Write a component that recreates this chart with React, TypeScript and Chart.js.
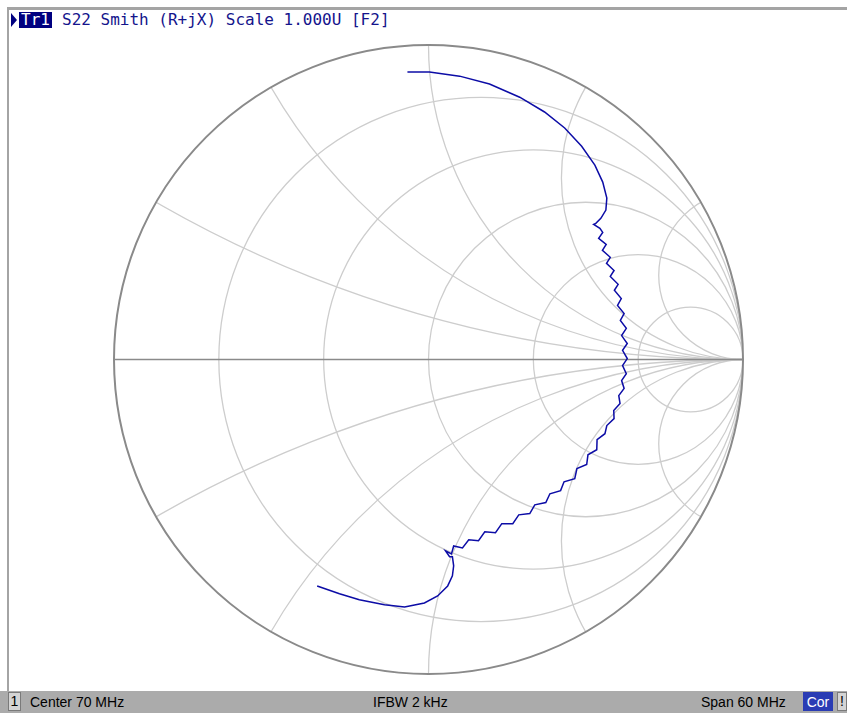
import { useEffect, useRef } from "react";
import { Chart, registerables } from "chart.js";
Chart.register(...registerables);

// Smith chart grid values (normalized)
const resistanceCircles = [0.2, 0.5, 1, 2, 5];
const reactanceArcs = [0.268, 0.577, 1, 1.732, 3.732];

// Trace: reflection coefficient, real and imaginary parts
const traceRe = [
  -0.067, 0.003, 0.099, 0.194, 0.29, 0.369, 0.433, 0.487, 0.529, 0.554, 0.567, 0.564, 0.548, 0.532,
  0.525, 0.545, 0.554, 0.541, 0.565, 0.553, 0.578, 0.566, 0.59, 0.578, 0.603, 0.591, 0.613, 0.601,
  0.622, 0.61, 0.629, 0.614, 0.632, 0.617, 0.632, 0.617, 0.629, 0.614, 0.622, 0.605, 0.609, 0.589,
  0.59, 0.567, 0.561, 0.536, 0.535, 0.507, 0.503, 0.472, 0.465, 0.431, 0.42, 0.386, 0.373, 0.338,
  0.322, 0.287, 0.268, 0.233, 0.213, 0.179, 0.159, 0.128, 0.108, 0.08, 0.073, 0.054, 0.067,
  0.076, 0.08, 0.076, 0.061, 0.029, -0.013, -0.076, -0.14, -0.22, -0.283, -0.354,
];
const traceIm = [
  0.914, 0.914, 0.901, 0.876, 0.834, 0.787, 0.736, 0.678, 0.618, 0.564, 0.513, 0.475, 0.449, 0.433,
  0.43, 0.417, 0.404, 0.385, 0.366, 0.347, 0.325, 0.306, 0.283, 0.264, 0.239, 0.22, 0.194, 0.172,
  0.146, 0.124, 0.099, 0.076, 0.051, 0.029, 0.003, -0.019, -0.045, -0.067, -0.092, -0.115, -0.14, -0.162,
  -0.188, -0.21, -0.236, -0.255, -0.287, -0.303, -0.334, -0.347, -0.379, -0.389, -0.417, -0.427, -0.455, -0.462,
  -0.49, -0.494, -0.522, -0.522, -0.551, -0.548, -0.576, -0.573, -0.599, -0.593, -0.618, -0.608, -0.627,
  -0.627, -0.656, -0.688, -0.72, -0.752, -0.774, -0.787, -0.78, -0.764, -0.745, -0.72,
];

const traceLabel = "Tr1";
const headerTitle = "S22 Smith (R+jX) Scale 1.000U [F2]";
const footerChannel = "1";
const footerCenter = "Center 70 MHz";
const footerIfbw = "IFBW 2 kHz";
const footerSpan = "Span 60 MHz";
const footerCor = "Cor";

const smithGrid = {
  id: "smithGrid",
  beforeDatasetsDraw(chart: any) {
    const { ctx } = chart;
    const xs = chart.scales.x;
    const ys = chart.scales.y;
    const px = (v: number) => xs.getPixelForValue(v);
    const py = (v: number) => ys.getPixelForValue(v);
    const cx = px(0);
    const cy = py(0);
    const R = px(1) - cx;
    ctx.save();
    ctx.beginPath();
    ctx.arc(cx, cy, R, 0, Math.PI * 2);
    ctx.clip();
    ctx.strokeStyle = "#cdcdcd";
    ctx.lineWidth = 1.3;
    for (const r of resistanceCircles) {
      ctx.beginPath();
      ctx.arc(px(r / (1 + r)), cy, px(1 / (1 + r)) - cx, 0, Math.PI * 2);
      ctx.stroke();
    }
    for (const xv of reactanceArcs) {
      for (const s of [1, -1]) {
        ctx.beginPath();
        ctx.arc(px(1), py(s / xv), px(1 / xv) - cx, 0, Math.PI * 2);
        ctx.stroke();
      }
    }
    ctx.restore();
    ctx.save();
    ctx.strokeStyle = "#8a8a8a";
    ctx.lineWidth = 1.6;
    ctx.beginPath();
    ctx.moveTo(px(-1), cy);
    ctx.lineTo(px(1), cy);
    ctx.stroke();
    ctx.lineWidth = 2;
    ctx.beginPath();
    ctx.arc(cx, cy, R, 0, Math.PI * 2);
    ctx.stroke();
    ctx.restore();
  },
};

export default function App() {
  const ref = useRef<HTMLCanvasElement>(null);
  useEffect(() => {
    document.body.style.margin = "0";
    const chart = new Chart(ref.current!, {
      type: "scatter",
      data: {
        datasets: [
          {
            label: traceLabel,
            data: traceRe.map((re, i) => ({ x: re, y: traceIm[i] })),
            showLine: true,
            borderColor: "#0c0ca6",
            borderWidth: 1.5,
            pointRadius: 0,
            tension: 0,
          },
        ],
      },
      options: {
        animation: false,
        responsive: false,
        devicePixelRatio: 1,
        layout: { padding: { left: 114, right: 104, top: 45, bottom: 39 } },
        scales: {
          x: { type: "linear", min: -1, max: 1, display: false },
          y: { type: "linear", min: -1, max: 1, display: false },
        },
        plugins: { legend: { display: false }, tooltip: { enabled: false } },
      },
      plugins: [smithGrid],
    });
    return () => chart.destroy();
  }, []);

  const mono = "'DejaVu Sans Mono', monospace";
  const sans = "'Liberation Sans', Arial, sans-serif";
  return (
    <div style={{ position: "fixed", left: 0, top: 0, width: 847, height: 713, background: "#fff", overflow: "hidden" }}>
      <div style={{ position: "absolute", left: 7, top: 7, right: 0, height: 3, background: "#a4a4a4" }} />
      <div style={{ position: "absolute", left: 7, top: 7, width: 2, height: 686, background: "#a4a4a4" }} />
      <div
        style={{
          position: "absolute", left: 11, top: 13, width: 0, height: 0,
          borderTop: "7px solid transparent", borderBottom: "7px solid transparent", borderLeft: "6px solid #000080",
        }}
      />
      <div
        style={{
          position: "absolute", left: 19, top: 12, width: 33, height: 16, background: "#000080", color: "#fff",
          font: `16px ${mono}`, lineHeight: "16px", textAlign: "center",
        }}
      >
        {traceLabel}
      </div>
      <div style={{ position: "absolute", left: 62, top: 12, color: "#14148c", font: `16px ${mono}`, lineHeight: "16px", whiteSpace: "pre" }}>
        {headerTitle}
      </div>
      <canvas ref={ref} width={847} height={713} style={{ position: "absolute", left: 0, top: 0, width: 847, height: 713 }} />
      <div style={{ position: "absolute", left: 0, top: 691, width: 847, height: 22, background: "#ababab", font: `14px ${sans}`, lineHeight: "20px", color: "#000" }}>
        <div style={{ position: "absolute", left: 8, top: 1, width: 13, height: 19, background: "#d4d4d4", border: "1px solid #7a7a7a", boxSizing: "border-box", textAlign: "center", lineHeight: "17px" }}>
          {footerChannel}
        </div>
        <div style={{ position: "absolute", left: 30, top: 1 }}>{footerCenter}</div>
        <div style={{ position: "absolute", left: 373, top: 1 }}>{footerIfbw}</div>
        <div style={{ position: "absolute", left: 701, top: 1 }}>{footerSpan}</div>
        <div style={{ position: "absolute", left: 803, top: 1, width: 30, height: 19, background: "#2a3cb4", color: "#fff", textAlign: "center" }}>
          {footerCor}
        </div>
        <div style={{ position: "absolute", left: 837, top: 1, width: 10, height: 19, background: "#d4d4d4", border: "1px solid #7a7a7a", boxSizing: "border-box", textAlign: "center", lineHeight: "17px" }}>
          !
        </div>
      </div>
    </div>
  );
}
